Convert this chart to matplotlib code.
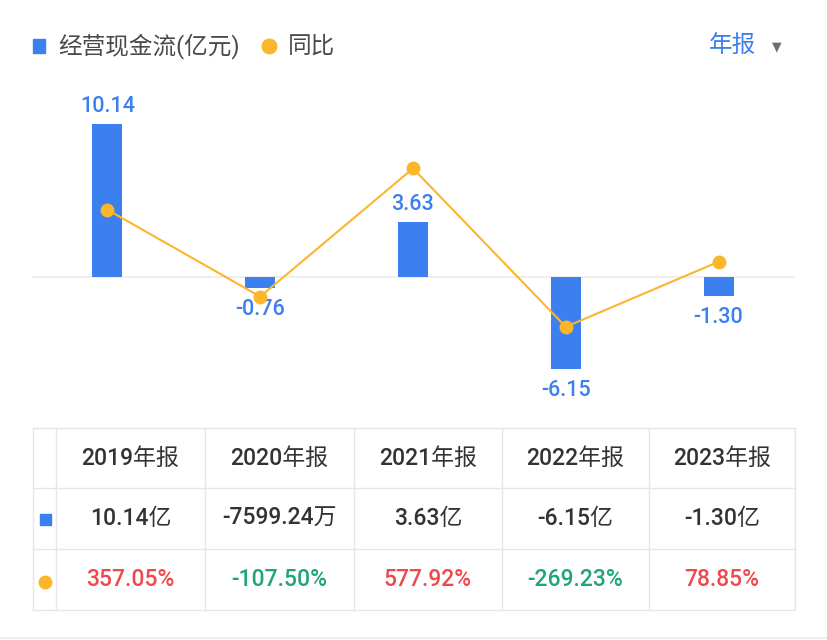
import matplotlib
matplotlib.use("Agg")
import matplotlib.pyplot as plt
from matplotlib.patches import Rectangle
from matplotlib.lines import Line2D

plt.rcParams['font.family'] = ['Roboto', 'Noto Sans CJK SC', 'DejaVu Sans']

years = ["2019年报", "2020年报", "2021年报", "2022年报", "2023年报"]
cash_flow = [10.14, -0.76, 3.63, -6.15, -1.30]          # 亿元
yoy = [357.05, -107.50, 577.92, -269.23, 78.85]          # %
cash_text = ["10.14亿", "-7599.24万", "3.63亿", "-6.15亿", "-1.30亿"]
yoy_text = ["357.05%", "-107.50%", "577.92%", "-269.23%", "78.85%"]

BLUE = "#3b80ee"
ORANGE = "#fbb62c"
RED = "#ee4a4d"
GREEN = "#1fa672"
DARK = "#333333"
GRID = "#e6e6e6"

W, H = 828, 640
fig = plt.figure(figsize=(W / 100, H / 100), dpi=100)

def fx(px):
    return px / W

def fy(py):
    return 1 - py / H

# ---- main chart axes (pixel geometry) ----
left, right, top, bottom = 31, 795, 90, 405
zero_px = 276.5
bar_scale = 15.0      # px per 亿
line_scale = 0.187    # px per %
ax = fig.add_axes([fx(left), fy(bottom), fx(right - left), (bottom - top) / H])
ax.set_xlim(-0.5, len(years) - 0.5)
ax.set_ylim(-(bottom - zero_px) / bar_scale, (zero_px - top) / bar_scale)
ax.axis("off")
ax.axhline(0, color="#ececec", lw=1.2, zorder=0, xmin=2 / (right - left))

x = list(range(len(years)))
ax.bar(x, cash_flow, width=0.196, color=BLUE, zorder=2)
for xi, v in zip(x, cash_flow):
    if v >= 0:
        ax.annotate(f"{v:.2f}", (xi, v), xytext=(0, 5), textcoords="offset points",
                    ha="center", va="bottom", color=BLUE, fontsize=15.5, fontweight="medium")
    else:
        ax.annotate(f"{v:.2f}", (xi, v), xytext=(0, -8), textcoords="offset points",
                    ha="center", va="top", color=BLUE, fontsize=15.5, fontweight="medium")

ax2 = ax.twinx()
ax2.set_ylim(-(bottom - zero_px) / line_scale, (zero_px - top) / line_scale)
ax2.axis("off")
ax2.plot(x, yoy, color=ORANGE, lw=1.5, marker="o", markersize=9, zorder=3)

# ---- legend / header ----
fig.patches.append(Rectangle((fx(33), fy(53)), 12 / W, 14 / H, transform=fig.transFigure,
                             color=BLUE, figure=fig))
fig.text(fx(58), fy(46), "经营现金流(亿元)", fontsize=17, color="#4a4a4a", va="center", ha="left")
fig.add_artist(Line2D([fx(269)], [fy(46)], marker="o", markersize=10.5, color=ORANGE,
                      transform=fig.transFigure))
fig.text(fx(288), fy(46), "同比", fontsize=17, color="#4a4a4a", va="center", ha="left")
fig.text(fx(756), fy(46), "年报", fontsize=17, color=BLUE, va="center", ha="right")
fig.text(fx(777), fy(47), "▼", fontsize=9, color="#6b6e75", va="center", ha="center",
         family=["DejaVu Sans"])

# ---- table ----
tax = fig.add_axes([0, 0, 1, 1])
tax.set_xlim(0, W)
tax.set_ylim(H, 0)
tax.axis("off")
col_edges = [33, 56, 205, 354, 502, 649, 795]
row_edges = [428, 488, 549, 610]
for cx in col_edges:
    tax.plot([cx, cx], [row_edges[0], row_edges[-1]], color=GRID, lw=1)
for ry in row_edges:
    tax.plot([col_edges[0], col_edges[-1]], [ry, ry], color=GRID, lw=1)
tax.plot([0, W], [638, 638], color="#eeeeee", lw=1.5)

centers = [(col_edges[i + 1] + col_edges[i + 2]) / 2 for i in range(len(years))]
rmid = [(row_edges[i] + row_edges[i + 1]) / 2 for i in range(3)]
FS = 16.5
for c, t in zip(centers, years):
    tax.text(c, rmid[0], t, ha="center", va="center", fontsize=FS, color=DARK,
             fontweight="medium")
for c, t in zip(centers, cash_text):
    tax.text(c, rmid[1], t, ha="center", va="center", fontsize=FS, color=DARK,
             fontweight="medium")
for c, t, v in zip(centers, yoy_text, yoy):
    tax.text(c, rmid[2], t, ha="center", va="center", fontsize=FS, fontweight="medium",
             color=RED if v >= 0 else GREEN)
tax.add_patch(Rectangle((40, rmid[1] - 4.5), 11, 11, color=BLUE))
tax.plot([45], [rmid[2] + 2], marker="o", markersize=9, color=ORANGE)

fig.savefig("out.png", dpi=100)
